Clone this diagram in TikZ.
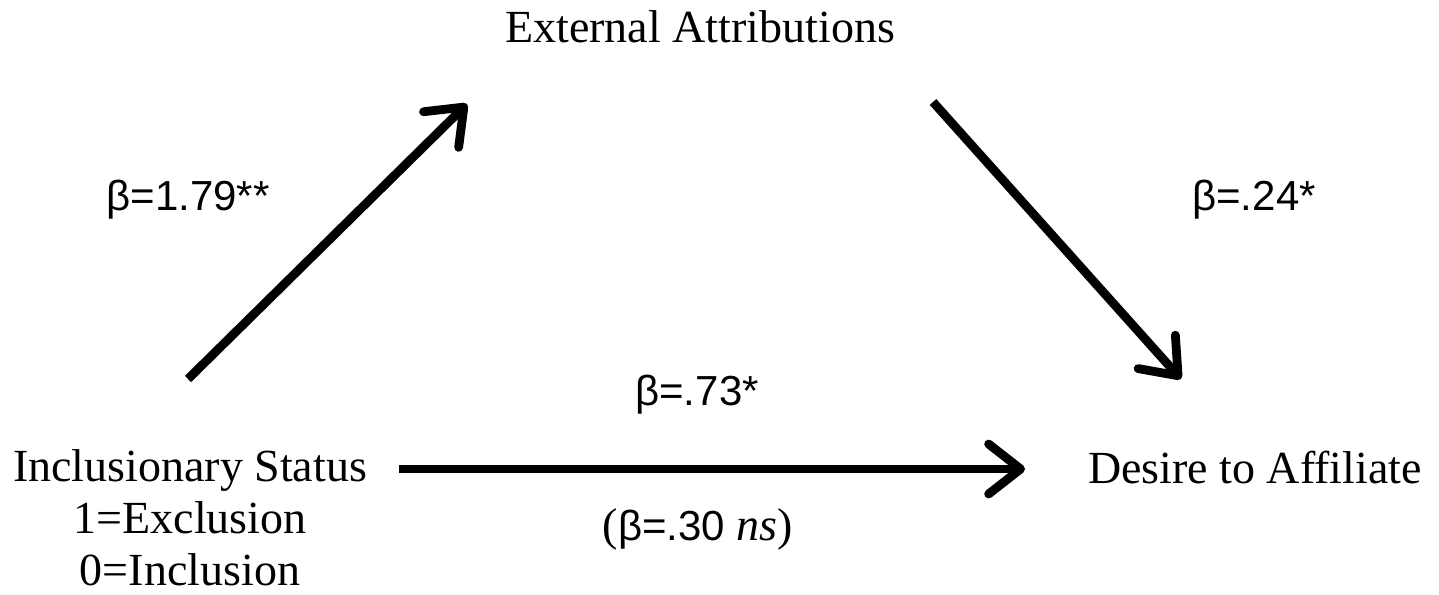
\documentclass[tikz,border=0pt]{standalone}
\usepackage{fontspec}
\setmainfont{Liberation Serif}
\newfontfamily\betafont{Liberation Sans}
\usetikzlibrary{arrows.meta}
\begin{document}
\begin{tikzpicture}[x=0.5pt,y=-0.5pt,
    var/.style={font=\fontsize{23}{26}\selectfont,align=center,inner sep=0pt},
    coef/.style={font=\betafont\fontsize{21}{25}\selectfont,inner sep=0pt,anchor=base},
    effect/.style={line width=4.4pt,-{Straight Barb[length=16pt,width=25pt,line cap=round,line join=round]}}]
                \useasboundingbox(0,0)rectangle(1439,594);
                \node[var,anchor=base](ext)at(700,42){External Attributions};
                \node[var,anchor=north](incl)at(190,449){Inclusionary Status\\1=Exclusion\\0=Inclusion};
                \node[var,anchor=base](desire)at(1255,483){Desire to Affiliate};
                \coordinate(a1)at(188,379);
                \coordinate(a2)at(467,104);
                \coordinate(b1)at(933,102);
                \coordinate(b2)at(1181,379);
                \coordinate(c1)at(399,469);
                \coordinate(c2)at(1025,469);
                \draw[effect](a1)--(a2);
                \draw[effect](b1)--(b2);
                \draw[effect](c1)--(c2);
                \node[coef](ba)at(188,210){β=1.79**};
                \node[coef](bb)at(1254,210){β=.24*};
                \node[coef](bc)at(697,405){β=.73*};
                \node[coef,font=\fontsize{23}{26}\selectfont](bd)at(698,540){({\betafont\fontsize{21}{25}\selectfont β=.30} \textit{ns})};
            \end{tikzpicture}
\end{document}
